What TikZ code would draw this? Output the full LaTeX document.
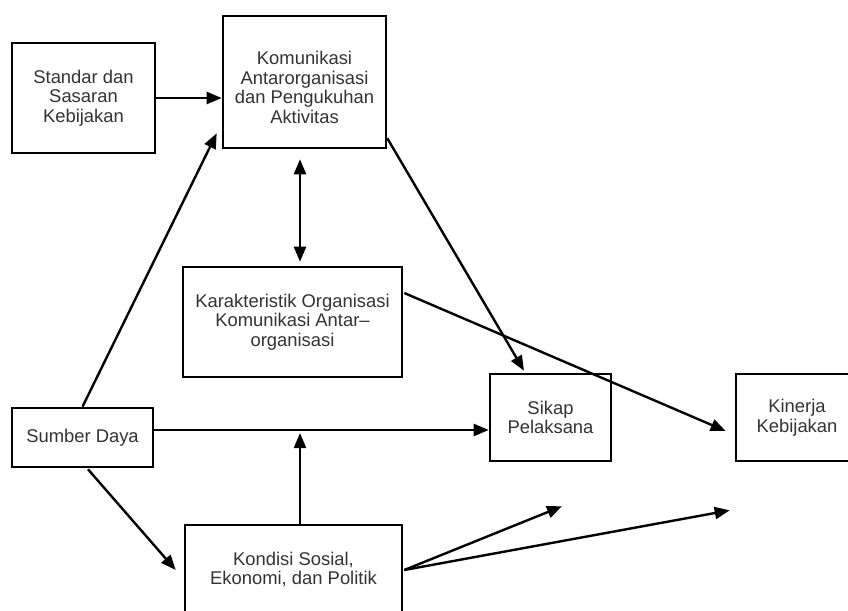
\documentclass[tikz,border=0pt]{standalone}
\usepackage{fontspec}
\setmainfont{Liberation Sans}
\usetikzlibrary{arrows.meta,calc}
\definecolor{txt}{gray}{0.2}
\begin{document}
\begin{tikzpicture}[x=1pt,y=-1pt,
  box/.style={draw=black,line width=2.6pt,rectangle,align=center,text=txt,
    font=\fontsize{18.4pt}{19.5pt}\selectfont,inner sep=0pt},
  arr/.style={line width=2.4pt,-{Triangle[length=15pt,width=12pt]}},
  dbl/.style={line width=2.4pt,{Triangle[length=15pt,width=12pt]}-{Triangle[length=15pt,width=12pt]}}]
\useasboundingbox (0,0) rectangle (848,610);
\clip (0,0) rectangle (848,610);
\fill[white] (0,0) rectangle (848,610);
\node[box,minimum width=143pt,minimum height=110pt] (std) at (83.5,98) {Standar dan\\Sasaran\\Kebijakan};
\node[box,minimum width=163pt,minimum height=132pt] (kom) at (304.5,82) {\rule{0pt}{24pt}Komunikasi\\Antarorganisasi\\dan Pengukuhan\\Aktivitas};
\node[box,minimum width=219pt,minimum height=110pt] (kar) at (292.5,322) {Karakteristik Organisasi\\Komunikasi Antar--\\organisasi};
\node[box,minimum width=141pt,minimum height=59pt] (sd) at (82.5,437.5) {Sumber Daya};
\node[box,minimum width=121pt,minimum height=87pt] (sik) at (550.5,417.5) {Sikap\\Pelaksana};
\node[box,minimum width=122pt,minimum height=87pt] (kin) at (797,417.5) {Kinerja\\Kebijakan};
\node[box,minimum width=217pt,minimum height=89pt] (kon) at (293.5,569.5) {Kondisi Sosial,\\Ekonomi, dan Politik};
\coordinate (sdr) at ($(sd.east)+(0,-7.5)$);
\coordinate (konup) at ($(kon.north)+(6.5,0)$);
\coordinate (konr) at ($(kon.east)+(1,0.5)$);
\coordinate (e1) at ($(sik.south)+(11.5,44)$);
\coordinate (e2) at ($(kin.south west)+(-5,48)$);
\draw[arr] (std.east) -- (std.east -| kom.west);
\draw[arr] (sd.north) -- ($(kom.south west)+(-5,-16)$);
\draw[dbl] ($(kom.south)+(-4.5,10)$) -- ($(kar.north)+(7.5,-4)$);
\draw[arr] ($(kom.south east)+(0,-11)$) -- ($(sik.north)+(-26.5,-2)$);
\draw[arr] ($(kar.east)+(1,-29)$) -- ($(kin.west)+(-9,13.5)$);
\draw[arr] (sdr) -- (sdr -| sik.west);
\draw[arr,shorten >=3pt] (konup) -- (konup |- sdr);
\draw[arr] ($(sd.south)+(5.5,1)$) -- ($(kon.west)+(-8,0.5)$);
\draw[arr] (konr) -- (e1);
\draw[arr] (konr) -- (e2);
\end{tikzpicture}
\end{document}
